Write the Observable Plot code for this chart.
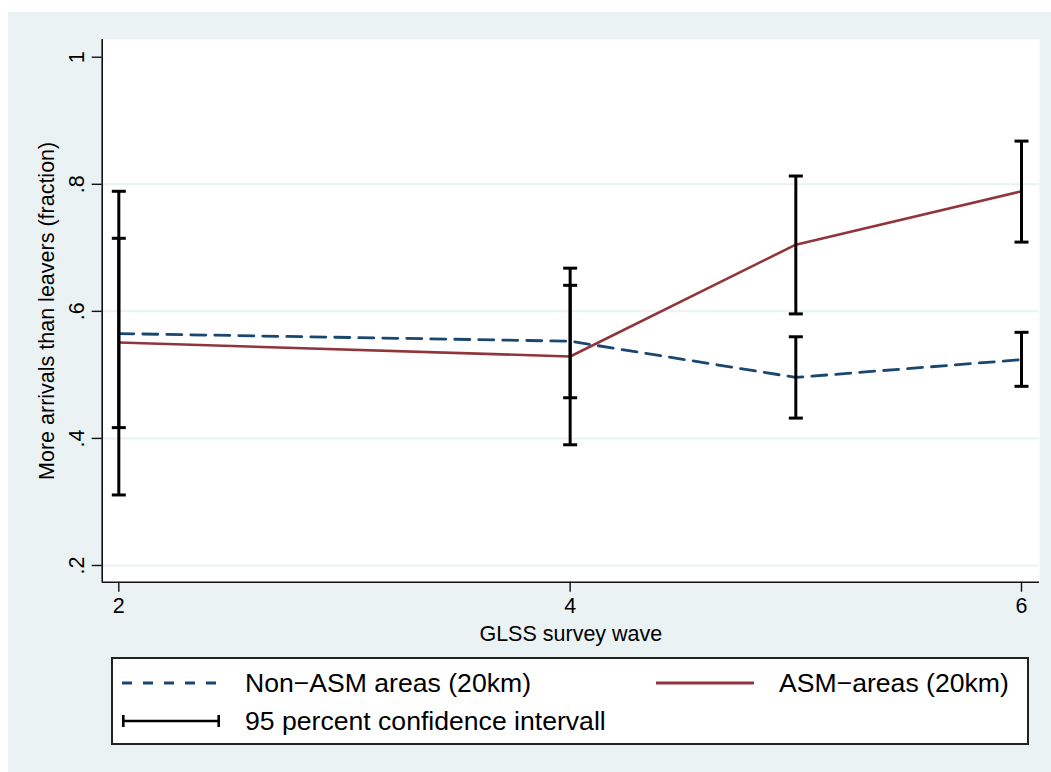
<!DOCTYPE html>
<html>
<head>
<meta charset="utf-8">
<script src="https://cdn.jsdelivr.net/npm/d3@7"></script>
<script src="https://cdn.jsdelivr.net/npm/@observablehq/plot@0.6"></script>
<style>
  html, body { margin: 0; padding: 0; background: #ffffff; }
  body { width: 1051px; height: 772px; position: relative; overflow: hidden;
         font-family: "Liberation Sans", Arial, Helvetica, sans-serif; }
  #panel { position: absolute; left: 8px; top: 12px; width: 1043px; height: 760px; background: #eaf2f3; }
  #chart { position: absolute; left: 0; top: 0; }
  #legend { position: absolute; left: 103px; top: 645px; width: 914px; height: 84px;
            background: #ffffff; border: 2px solid #222; }
  .key { position: absolute; }
  .lbl { position: absolute; font-size: 26.6px; line-height: 30px; color: #000; white-space: nowrap; }
</style>
</head>
<body>
<div id="panel">
  <div id="chart"></div>
  <div id="legend"></div>
</div>
<script>
// GLSS survey waves
const waves = [2, 4, 5, 6];

// Non-ASM areas (20km): share with more arrivals than leavers, and 95% CI
const nonAsm   = [0.565, 0.553, 0.496, 0.524];
const nonAsmLo = [0.417, 0.464, 0.432, 0.482];
const nonAsmHi = [0.715, 0.641, 0.560, 0.567];

// ASM-areas (20km)
const asm   = [0.551, 0.529, 0.705, 0.789];
const asmLo = [0.311, 0.390, 0.596, 0.709];
const asmHi = [0.789, 0.668, 0.813, 0.868];

// Axis ticks and labels
const xTicks = [2, 4, 6];
const yTicks = [0.2, 0.4, 0.6, 0.8, 1];
const yGrid = [0.2, 0.4, 0.6, 0.8];
const xDomain = [1.9264, 6.0798];
const yDomain = [0.1737, 1.0279];

const seriesNames = ["Non\u2212ASM areas (20km)", "ASM\u2212areas (20km)"];
const ciName = "95 percent confidence intervall";
const navy = "#1a476f";
const maroon = "#90353b";

const rowsNon = waves.map((w, i) => ({wave: w, value: nonAsm[i], lo: nonAsmLo[i], hi: nonAsmHi[i]}));
const rowsAsm = waves.map((w, i) => ({wave: w, value: asm[i], lo: asmLo[i], hi: asmHi[i]}));
const ciRows = [...rowsNon, ...rowsAsm];

// Horizontal cap symbol for the confidence interval ends
const cap = {
  draw(context, size) {
    const r = Math.sqrt(size / Math.PI);
    context.moveTo(-r, 0);
    context.lineTo(r, 0);
  }
};

const fmtY = d => String(d).replace(/^0(?=\.)/, "");

const chart = Plot.plot({
  width: 1043,
  height: 640,
  marginLeft: 93.7,
  marginRight: 12,
  marginTop: 27,
  marginBottom: 70.3,
  style: {
    background: "transparent",
    fontFamily: "'Liberation Sans', Arial, Helvetica, sans-serif",
    fontSize: "21.5px",
    color: "#000",
    overflow: "visible"
  },
  x: {domain: xDomain},
  y: {domain: yDomain},
  marks: [
    Plot.frame({fill: "#ffffff", stroke: null}),
    Plot.ruleY(yGrid, {stroke: "#eaf2f3", strokeWidth: 2}),
    Plot.ruleX([xDomain[0]], {stroke: "#111", strokeWidth: 1.6}),
    Plot.ruleY([yDomain[0]], {stroke: "#111", strokeWidth: 1.6}),
    Plot.axisY({
      ticks: yTicks, tickFormat: fmtY, tickSize: 10, tickPadding: 8, tickRotate: -90,
      stroke: "#111", strokeWidth: 1.4,
      label: "More arrivals than leavers (fraction)", labelAnchor: "center", labelArrow: "none", labelOffset: 63
    }),
    Plot.axisX({
      ticks: xTicks, tickFormat: d => String(d), tickSize: 10, tickPadding: 6,
      stroke: "#111", strokeWidth: 1.4,
      label: "GLSS survey wave", labelAnchor: "center", labelArrow: "none", labelOffset: 59
    }),
    Plot.line(rowsNon, {x: "wave", y: "value", stroke: navy, strokeWidth: 2.8, strokeDasharray: "15,9"}),
    Plot.line(rowsAsm, {x: "wave", y: "value", stroke: maroon, strokeWidth: 2.6}),
    Plot.ruleX(ciRows, {x: "wave", y1: "lo", y2: "hi", stroke: "#000", strokeWidth: 3}),
    Plot.dot(ciRows, {x: "wave", y: "lo", symbol: cap, r: 7, stroke: "#000", strokeWidth: 3, fill: "none"}),
    Plot.dot(ciRows, {x: "wave", y: "hi", symbol: cap, r: 7, stroke: "#000", strokeWidth: 3, fill: "none"})
  ]
});
document.getElementById("chart").appendChild(chart);

// Legend: line keys with labels, in a white framed box below the plot
const legend = d3.select("#legend");
const items = [
  {name: seriesNames[0], kind: "dash", x: 9, tx: 132, cy: 23.5},
  {name: seriesNames[1], kind: "solid", x: 543, tx: 666, cy: 23.5},
  {name: ciName, kind: "ci", x: 9, tx: 132, cy: 62}
];
for (const it of items) {
  const svg = legend.append("svg").attr("class", "key")
    .attr("width", 100).attr("height", 20)
    .style("left", it.x + "px").style("top", (it.cy - 10) + "px");
  if (it.kind === "dash") {
    svg.append("line").attr("x1", 0).attr("x2", 98).attr("y1", 10).attr("y2", 10)
      .attr("stroke", navy).attr("stroke-width", 2.8).attr("stroke-dasharray", "10,11");
  } else if (it.kind === "solid") {
    svg.append("line").attr("x1", 0).attr("x2", 98).attr("y1", 10).attr("y2", 10)
      .attr("stroke", maroon).attr("stroke-width", 2.8);
  } else {
    svg.append("line").attr("x1", 1).attr("x2", 97).attr("y1", 10).attr("y2", 10)
      .attr("stroke", "#000").attr("stroke-width", 2.6);
    svg.append("line").attr("x1", 1.3).attr("x2", 1.3).attr("y1", 4).attr("y2", 16)
      .attr("stroke", "#000").attr("stroke-width", 2.6);
    svg.append("line").attr("x1", 96.7).attr("x2", 96.7).attr("y1", 4).attr("y2", 16)
      .attr("stroke", "#000").attr("stroke-width", 2.6);
  }
  legend.append("div").attr("class", "lbl")
    .style("left", it.tx + "px").style("top", (it.cy - 15) + "px")
    .text(it.name);
}
</script>
</body>
</html>
